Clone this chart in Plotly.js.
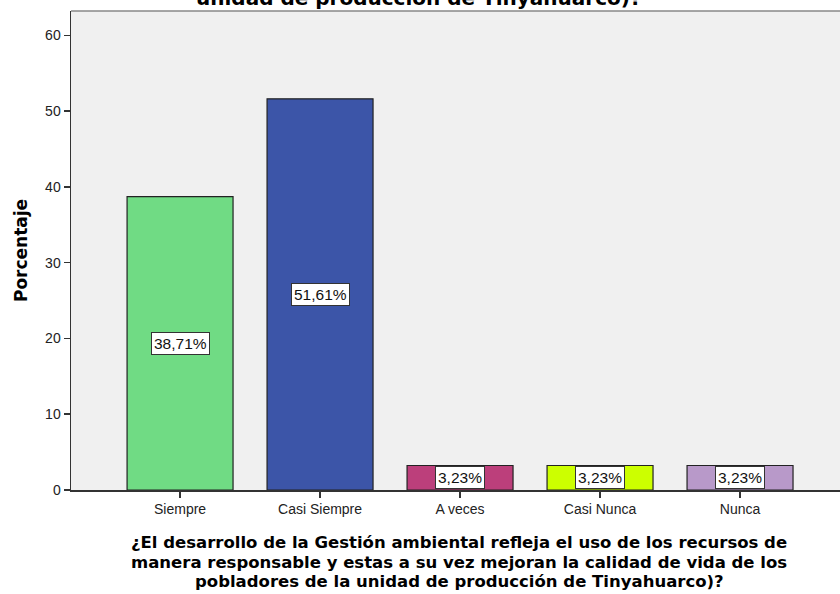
<!DOCTYPE html>
<html><head><meta charset="utf-8">
<script src="https://cdn.plot.ly/plotly-3.0.1.min.js"></script>
<style>body{margin:0;background:#fff}#c{width:840px;height:594px}</style>
</head><body><div id="c"></div>
<script>
const categories = ["Siempre", "Casi Siempre", "A veces", "Casi Nunca", "Nunca"];
const values = [38.71, 51.61, 3.23, 3.23, 3.23];
const labels = ["38,71%", "51,61%", "3,23%", "3,23%", "3,23%"];
const colors = ["#70db84", "#3c55a8", "#bc3f7b", "#ccff00", "#b899c9"];
const xTitleLines = [
  "¿El desarrollo de la Gestión ambiental refleja el uso de los recursos de",
  "manera responsable y estas a su vez mejoran la calidad de vida de los",
  "pobladores de la unidad de producción de Tinyahuarco)?"
];
const titleText = "unidad de producción de Tinyahuarco)?";

const sans = "Liberation Sans, Arial, sans-serif";
const boldf = "DejaVu Sans, Verdana, sans-serif";
const trace = {
  type: "bar", x: categories, y: values,
  marker: {color: colors, line: {color: "#222", width: 1.2}},
  width: 0.757, hoverinfo: "none"
};
const ann = categories.map((c, i) => ({
  x: c, y: values[i] / 2, text: labels[i], showarrow: false,
  bgcolor: "#fff", bordercolor: "#333", borderwidth: 1, borderpad: 2,
  font: {family: sans, size: 15.5, color: "#111"}
}));
ann.push({
  xref: "paper", yref: "paper", x: 0.452, y: 1, yshift: 13, xanchor: "center", yanchor: "middle",
  text: titleText, showarrow: false,
  font: {family: boldf, size: 20, color: "#000", weight: "bold"}
});
const lineShift = [-52.5, -72, -91.5];
xTitleLines.forEach((t, i) => ann.push({
  xref: "paper", yref: "paper", x: 0.505, y: 0, yshift: lineShift[i], xanchor: "center", yanchor: "middle",
  text: t, showarrow: false,
  font: {family: boldf, size: 16.5, color: "#000", weight: "bold"}
}));
const layout = {
  width: 840, height: 594,
  margin: {l: 71, r: 0, t: 11, b: 104},
  paper_bgcolor: "#fff", plot_bgcolor: "#f0f0f0",
  showlegend: false, bargap: 0.243,
  xaxis: {
    range: [-0.779, 4.714], showgrid: false, zeroline: false,
    showline: true, linecolor: "#333", linewidth: 1.5,
    ticks: "outside", ticklen: 6, tickcolor: "#333", tickwidth: 1.5,
    tickfont: {family: sans, size: 14, color: "#222"}
  },
  yaxis: {
    range: [0, 63.2], dtick: 10, showgrid: false, zeroline: false,
    showline: true, linecolor: "#333", linewidth: 1.5, mirror: false,
    ticks: "outside", ticklen: 6, tickcolor: "#333", tickwidth: 1.5,
    tickfont: {family: sans, size: 14, color: "#222"},
    title: {text: "Porcentaje", font: {family: boldf, size: 17, color: "#000", weight: "bold"}, standoff: 13}
  },
  shapes: [{type: "line", xref: "paper", yref: "paper", x0: 0, x1: 1, y0: 1, y1: 1, line: {color: "#888", width: 1.5}}],
  annotations: ann
};
Plotly.newPlot("c", [trace], layout, {displayModeBar: false, staticPlot: true});
</script></body></html>
